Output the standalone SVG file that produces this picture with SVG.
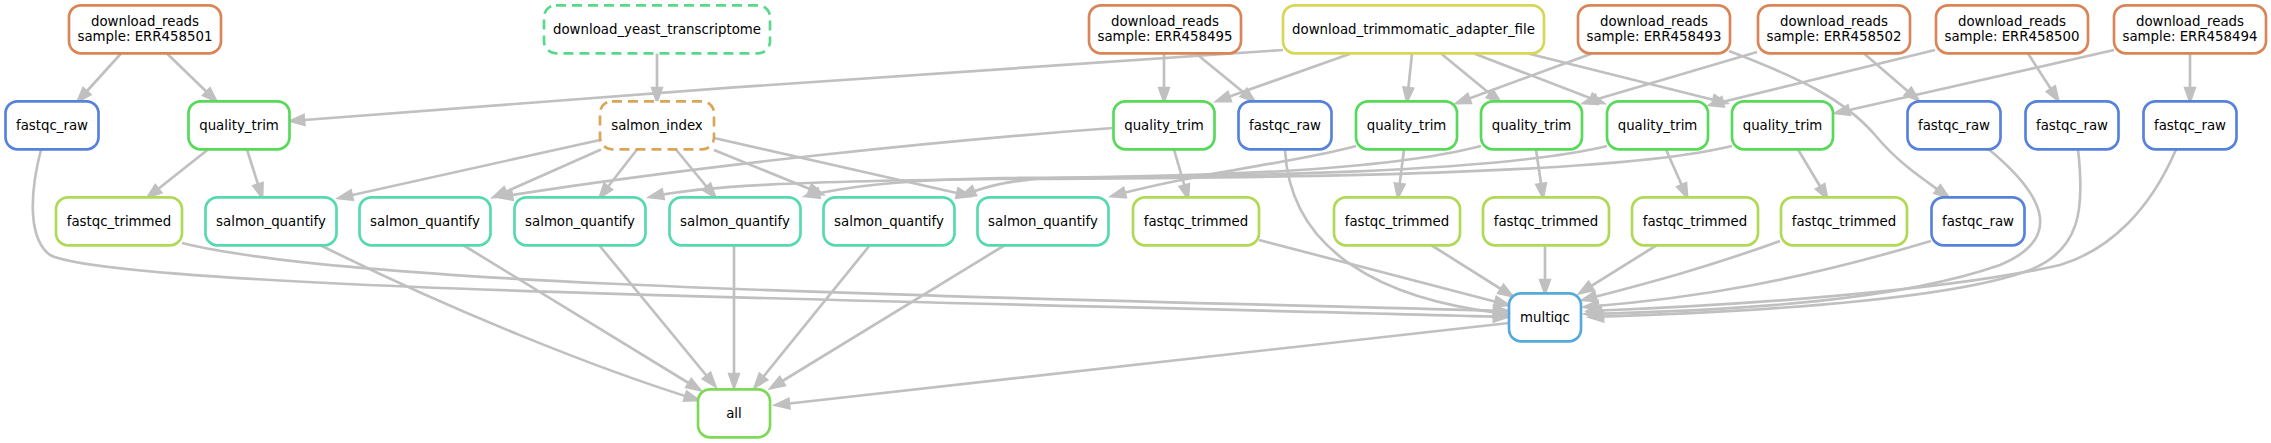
<svg xmlns="http://www.w3.org/2000/svg" width="2271" height="443" viewBox="0 0 2271 443">
<defs>
<style>
.n rect{fill:#fff;stroke-width:2.67}
.n text{font-family:"DejaVu Sans","Liberation Sans",sans-serif;font-size:13.33px;fill:#000;text-anchor:middle}
.dr rect{stroke:#d98557}
.yt rect{stroke:#57d98b;stroke-dasharray:10,6}
.tm rect{stroke:#d9d657}
.fr rect{stroke:#5782d9}
.qt rect{stroke:#57d95a}
.si rect{stroke:#d9a557;stroke-dasharray:10,6}
.sq rect{stroke:#57d9b0}
.ft rect{stroke:#b0d957}
.mq rect{stroke:#57a9d9}
.al rect{stroke:#7ed957}
#edges path{fill:none;stroke:#c0c0c0;stroke-width:2.67;marker-end:url(#ah)}
</style>
<marker id="ah" markerUnits="userSpaceOnUse" markerWidth="20" markerHeight="16" refX="13" refY="4.67" orient="auto" overflow="visible">
<polygon points="0,0 13.3,4.67 0,9.33" fill="#c0c0c0" stroke="#c0c0c0" stroke-width="2.67" stroke-linejoin="miter"/>
</marker>
</defs>
<rect width="2271" height="443" fill="#fff"/>
<g id="edges">
<path d="M121,53.5 L78,101"/>
<path d="M167,53.5 L216,101"/>
<path d="M657,53.5 L657,101"/>
<path d="M1283,50 C1000,68 600,96 291,121"/>
<path d="M1164,53.5 L1164,101"/>
<path d="M1196,53.5 L1254,101"/>
<path d="M1351,53.5 L1217,101"/>
<path d="M1412,53.5 L1407,101"/>
<path d="M1441,53.5 L1500,102"/>
<path d="M1474,53.5 L1603,103"/>
<path d="M1528,53.5 L1726,103"/>
<path d="M1592,53.5 L1457,103"/>
<path d="M1729,51 C1800,78 1845,100 1875,135 C1900,165 1925,180 1948,197"/>
<path d="M1757,52 L1584,103"/>
<path d="M1864,53.5 L1918,100"/>
<path d="M1935,50 L1710,105"/>
<path d="M2028,53.5 L2058,100"/>
<path d="M2114,50 L1836,113"/>
<path d="M2190,53.5 L2190,101"/>
<path d="M208,149.5 L148,197"/>
<path d="M247,149.5 L262,197"/>
<path d="M600,140 L339,198"/>
<path d="M601,149.5 L494,197"/>
<path d="M637,149.5 L600,197"/>
<path d="M676,149.5 L715,197"/>
<path d="M714,150 L822,194"/>
<path d="M714,138 L970,196"/>
<path d="M1113,128 C950,140 700,165 499,197"/>
<path d="M1174,149.5 L1188,198"/>
<path d="M1356,146 C1300,162 1200,172 1112,196"/>
<path d="M1404,149.5 L1398,197"/>
<path d="M1481,146 C1380,172 1200,176 1050,178 C1010,180 985,186 962,196"/>
<path d="M1536,149.5 L1543,197"/>
<path d="M1607,146 C1500,172 1250,177 1000,178 C900,180 850,186 806,196"/>
<path d="M1666,149.5 L1687,197"/>
<path d="M1732,146 C1620,174 1300,178 1000,179 C800,181 700,186 650,197"/>
<path d="M1798,149.5 L1827,198"/>
<path d="M41,149.5 C28,200 30,240 50,255 C120,290 900,300 1507,317"/>
<path d="M182,243 C350,285 900,295 1507,311"/>
<path d="M1259,240 L1508,305"/>
<path d="M1285,149.5 C1290,250 1380,300 1507,314"/>
<path d="M1431,245 L1512,296"/>
<path d="M1545,245.5 L1545,293"/>
<path d="M1657,245 L1580,293"/>
<path d="M1780,241 C1700,270 1640,285 1583,300"/>
<path d="M1931,241 C1800,280 1700,298 1585,307"/>
<path d="M1989,149.5 C2050,200 2060,240 2000,265 C1900,300 1750,310 1586,314"/>
<path d="M2078,149.5 C2085,210 2080,250 2030,270 C1950,300 1750,312 1590,317"/>
<path d="M2176,149.5 C2150,210 2110,250 2060,265 C1950,290 1750,305 1588,311"/>
<path d="M1509,323 L776,405"/>
<path d="M320,245 C450,310 600,370 698,400"/>
<path d="M463,245 L700,390"/>
<path d="M599,245 L715,386"/>
<path d="M734,245.5 L734,387"/>
<path d="M870,245 L755,387"/>
<path d="M1005,245 L771,388"/>
</g>
<g id="dr501" class="n dr"><rect x="69" y="5.3" width="152" height="48" rx="12"/><text x="145" y="25.7">download_reads</text><text x="145" y="41">sample: ERR458501</text></g>
<g id="yeast" class="n yt"><rect x="544" y="5.3" width="226" height="48" rx="12"/><text x="657" y="34">download_yeast_transcriptome</text></g>
<g id="dr495" class="n dr"><rect x="1089" y="5.3" width="152" height="48" rx="12"/><text x="1165" y="25.7">download_reads</text><text x="1165" y="41">sample: ERR458495</text></g>
<g id="trim" class="n tm"><rect x="1283" y="5.3" width="261" height="48" rx="12"/><text x="1413.5" y="34">download_trimmomatic_adapter_file</text></g>
<g id="dr493" class="n dr"><rect x="1578" y="5.3" width="152" height="48" rx="12"/><text x="1654" y="25.7">download_reads</text><text x="1654" y="41">sample: ERR458493</text></g>
<g id="dr502" class="n dr"><rect x="1758" y="5.3" width="152" height="48" rx="12"/><text x="1834" y="25.7">download_reads</text><text x="1834" y="41">sample: ERR458502</text></g>
<g id="dr500" class="n dr"><rect x="1936" y="5.3" width="152" height="48" rx="12"/><text x="2012" y="25.7">download_reads</text><text x="2012" y="41">sample: ERR458500</text></g>
<g id="dr494" class="n dr"><rect x="2114" y="5.3" width="152" height="48" rx="12"/><text x="2190" y="25.7">download_reads</text><text x="2190" y="41">sample: ERR458494</text></g>
<g id="fr501" class="n fr"><rect x="5.5" y="101.3" width="93" height="48" rx="12"/><text x="52" y="130">fastqc_raw</text></g>
<g id="qt501" class="n qt"><rect x="188.5" y="101.3" width="101" height="48" rx="12"/><text x="239" y="130">quality_trim</text></g>
<g id="sidx" class="n si"><rect x="600" y="101.3" width="114" height="48" rx="12"/><text x="657" y="130">salmon_index</text></g>
<g id="qt495" class="n qt"><rect x="1113.5" y="101.3" width="101" height="48" rx="12"/><text x="1164" y="130">quality_trim</text></g>
<g id="fr495" class="n fr"><rect x="1238.5" y="101.3" width="93" height="48" rx="12"/><text x="1285" y="130">fastqc_raw</text></g>
<g id="qt493" class="n qt"><rect x="1356" y="101.3" width="101" height="48" rx="12"/><text x="1406.5" y="130">quality_trim</text></g>
<g id="qt502" class="n qt"><rect x="1481" y="101.3" width="101" height="48" rx="12"/><text x="1531.5" y="130">quality_trim</text></g>
<g id="qt500" class="n qt"><rect x="1607" y="101.3" width="101" height="48" rx="12"/><text x="1657.5" y="130">quality_trim</text></g>
<g id="qt494" class="n qt"><rect x="1732" y="101.3" width="101" height="48" rx="12"/><text x="1782.5" y="130">quality_trim</text></g>
<g id="fr502" class="n fr"><rect x="1907.5" y="101.3" width="93" height="48" rx="12"/><text x="1954" y="130">fastqc_raw</text></g>
<g id="fr500" class="n fr"><rect x="2025.5" y="101.3" width="93" height="48" rx="12"/><text x="2072" y="130">fastqc_raw</text></g>
<g id="fr494" class="n fr"><rect x="2143.5" y="101.3" width="93" height="48" rx="12"/><text x="2190" y="130">fastqc_raw</text></g>
<g id="ft501" class="n ft"><rect x="56" y="197.3" width="126" height="48" rx="12"/><text x="119" y="226">fastqc_trimmed</text></g>
<g id="sq1" class="n sq"><rect x="205.5" y="197.3" width="131" height="48" rx="12"/><text x="271" y="226">salmon_quantify</text></g>
<g id="sq2" class="n sq"><rect x="359.5" y="197.3" width="131" height="48" rx="12"/><text x="425" y="226">salmon_quantify</text></g>
<g id="sq3" class="n sq"><rect x="514.5" y="197.3" width="131" height="48" rx="12"/><text x="580" y="226">salmon_quantify</text></g>
<g id="sq4" class="n sq"><rect x="669.5" y="197.3" width="131" height="48" rx="12"/><text x="735" y="226">salmon_quantify</text></g>
<g id="sq5" class="n sq"><rect x="823.5" y="197.3" width="131" height="48" rx="12"/><text x="889" y="226">salmon_quantify</text></g>
<g id="sq6" class="n sq"><rect x="977.5" y="197.3" width="131" height="48" rx="12"/><text x="1043" y="226">salmon_quantify</text></g>
<g id="ft495" class="n ft"><rect x="1133" y="197.3" width="126" height="48" rx="12"/><text x="1196" y="226">fastqc_trimmed</text></g>
<g id="ft493" class="n ft"><rect x="1334" y="197.3" width="126" height="48" rx="12"/><text x="1397" y="226">fastqc_trimmed</text></g>
<g id="ft502" class="n ft"><rect x="1483" y="197.3" width="126" height="48" rx="12"/><text x="1546" y="226">fastqc_trimmed</text></g>
<g id="ft500" class="n ft"><rect x="1632" y="197.3" width="126" height="48" rx="12"/><text x="1695" y="226">fastqc_trimmed</text></g>
<g id="ft494" class="n ft"><rect x="1781" y="197.3" width="126" height="48" rx="12"/><text x="1844" y="226">fastqc_trimmed</text></g>
<g id="fr493" class="n fr"><rect x="1931.5" y="197.3" width="93" height="48" rx="12"/><text x="1978" y="226">fastqc_raw</text></g>
<g id="multiqc" class="n mq"><rect x="1509" y="293.3" width="72" height="48" rx="12"/><text x="1545" y="322">multiqc</text></g>
<g id="all" class="n al"><rect x="698" y="389.3" width="72" height="48" rx="12"/><text x="734" y="418">all</text></g>
</svg>
